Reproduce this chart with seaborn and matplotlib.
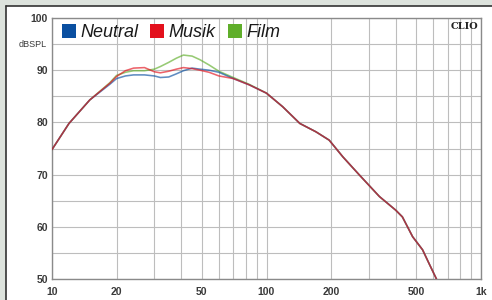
import numpy as np
import pandas as pd
import seaborn as sns
from matplotlib import pyplot as plt
from matplotlib.patches import Patch, Rectangle
from matplotlib.ticker import FixedLocator, NullFormatter
import matplotlib.transforms as mtransforms

# frequency response readings (Hz / dB SPL)
freq = [10, 12, 15, 18.6, 20, 22, 24, 27, 30, 32, 35, 38, 41, 45, 49, 54,
        60, 70, 83, 100, 119, 143, 170, 196, 227, 270, 336, 400, 430, 480,
        534, 572, 620]
musik = [74.8, 79.8, 84.3, 87.5, 88.8, 89.9, 90.4, 90.5, 89.7, 89.5, 89.8,
         90.2, 90.5, 90.3, 90.0, 89.6, 88.9, 88.4, 87.2, 85.6, 83.0, 79.8,
         78.2, 76.6, 73.4, 70.0, 65.8, 63.2, 61.9, 58.1, 55.6, 53.0, 50.0]
neutral = [74.8, 79.8, 84.3, 87.3, 88.4, 88.9, 89.1, 89.1, 88.9, 88.6, 88.7,
           89.3, 89.9, 90.4, 90.2, 90.0, 89.6, 88.4, 87.2, 85.6, 83.0, 79.8,
           78.2, 76.6, 73.4, 70.0, 65.8, 63.2, 61.9, 58.1, 55.6, 53.0, 50.0]
film = [74.8, 79.8, 84.3, 87.6, 89.0, 89.6, 89.9, 89.9, 90.2, 90.7, 91.5,
        92.3, 92.9, 92.7, 92.0, 91.0, 89.8, 88.6, 87.3, 85.6, 83.0, 79.8,
        78.2, 76.6, 73.4, 70.0, 65.8, 63.2, 61.9, 58.1, 55.6, 53.0, 50.0]

names = ["Neutral", "Musik", "Film"]
colors = {"Neutral": "#0a4fa0", "Musik": "#e3101c", "Film": "#5fae2a"}

df = pd.concat([
    pd.DataFrame({"Hz": freq, "dB": film, "mode": "Film"}),
    pd.DataFrame({"Hz": freq, "dB": neutral, "mode": "Neutral"}),
    pd.DataFrame({"Hz": freq, "dB": musik, "mode": "Musik"}),
])

sns.set_theme(style="white")
plt.rcParams['font.family'] = ['Liberation Sans', 'DejaVu Sans']

fig = plt.figure(figsize=(4.92, 3.0), dpi=100)
fig.patch.set_facecolor("#dde3dd")
# white panel with dark top/left border
fig.add_artist(Rectangle((6 / 492, 0), 1, 1 - 6 / 300, transform=fig.transFigure,
                         facecolor="white", edgecolor="none", zorder=-5))
fig.add_artist(plt.Line2D([6 / 492, 1], [1 - 6 / 300] * 2, transform=fig.transFigure,
                          color="#333333", lw=1.2, zorder=-4))
fig.add_artist(plt.Line2D([6 / 492] * 2, [0, 1 - 6 / 300], transform=fig.transFigure,
                          color="#333333", lw=1.2, zorder=-4))

ax = fig.add_axes([52 / 492, 21 / 300, 429 / 492, 261 / 300])
ax.set_zorder(2)
ax.set_facecolor("white")
sns.lineplot(data=df, x="Hz", y="dB", hue="mode", palette=colors,
             hue_order=["Film", "Neutral", "Musik"], lw=1.15, alpha=0.65,
             legend=False, ax=ax, zorder=3)

ax.set_xscale("log")
ax.set_xlim(10, 1000)
ax.set_ylim(50, 100)
ax.xaxis.set_major_locator(FixedLocator([10, 20, 50, 100, 200, 500, 1000]))
ax.set_xticklabels(["10", "20", "50", "100", "200", "500", "1k"])
ax.xaxis.set_minor_locator(FixedLocator(
    [30, 40, 60, 70, 80, 90, 300, 400, 600, 700, 800, 900]))
ax.xaxis.set_minor_formatter(NullFormatter())
ax.set_yticks([50, 60, 70, 80, 90, 100])
ax.set_yticks(np.arange(55, 100, 10), minor=True)
ax.grid(True, which="both", color="#bdbdbd", lw=0.8)
ax.set_axisbelow(True)
ax.tick_params(axis="both", which="both", length=0, labelsize=7.5,
               labelcolor="#3a3a3a", pad=3)
ax.tick_params(axis="x", pad=6)
for lab in ax.get_xticklabels() + ax.get_yticklabels():
    lab.set_fontweight("bold")
for s in ax.spines.values():
    s.set_color("#8a8a8a")
    s.set_linewidth(1.0)
ax.set_xlabel("")
ax.set_ylabel("")

trans = mtransforms.blended_transform_factory(ax.transAxes, ax.transData)
ax.text(-0.013, 95, "dBSPL", transform=trans, ha="right", va="center",
        fontsize=6.5, color="#3a3a3a")
ax.text(0.993, 0.985, "CLIO", transform=ax.transAxes, ha="right", va="top",
        fontsize=7, fontweight="bold", family="DejaVu Serif", color="#222222")

handles = [Patch(facecolor=colors[n], edgecolor="none", label=n) for n in names]
leg = ax.legend(handles=handles, loc="upper left", bbox_to_anchor=(0.023, 0.976),
                ncol=3, frameon=False, borderpad=0, borderaxespad=0,
                handlelength=0.78, handleheight=0.75, handletextpad=0.25,
                columnspacing=0.65, prop={"size": 13, "style": "italic"})
for t in leg.get_texts():
    t.set_color("#1a1a1a")

fig.savefig("out.png", dpi=100, facecolor=fig.get_facecolor())
